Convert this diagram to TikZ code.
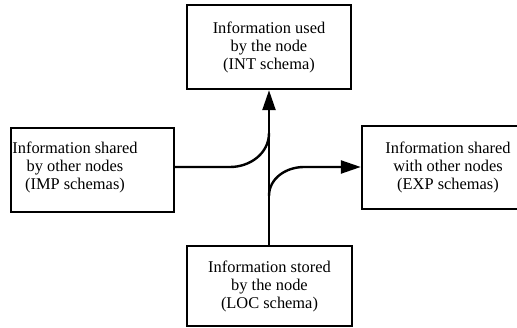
\documentclass[tikz,border=0pt]{standalone}
\usepackage{fontspec}
\setmainfont{Liberation Serif}
\usepackage{tikz}
\usetikzlibrary{arrows.meta}

\tikzset{
  schemabox/.style={draw, line width=2.4pt, inner sep=0pt, align=center,
    font=\fontsize{16.4}{18}\selectfont},
  info/.style={align=center, inner sep=0pt, font=\fontsize{16.4}{18}\selectfont},
  flow/.style={line width=2.4pt},
  tip/.style={-{Triangle[length=20pt,width=13pt]}}
}

\begin{document}
\begin{tikzpicture}[x=1pt,y=-1pt]
      \useasboundingbox (0,0) rectangle (517,328);
      \node[schemabox, minimum width=164, minimum height=84] (int) at (269,47)
        {Information used\\by the node\\(INT schema)};
      \node[schemabox, minimum width=163, minimum height=84] (imp) at (92.5,170) {};
      \node[info] (imptext) at (75,167) {Information shared\\by other nodes\\(IMP schemas)};
      \node[schemabox, minimum width=200, minimum height=83] (exp) at (462,167.5) {};
      \node[info] (exptext) at (448,167) {Information shared\\with other nodes\\(EXP schemas)};
      \node[schemabox, minimum width=165, minimum height=80] (loc) at (269.5,286)
        {Information stored\\by the node\\(LOC schema)};
      \coordinate (join) at (269,133);
      \coordinate (split) at (269,196);
      \draw[flow, tip] (loc.north -| join) -- (int.south -| join);
      \draw[flow] (imp.east |- 0,167) -- (230,167) to[out=0,in=-90] (join);
      \draw[flow, tip] (split) to[out=90,in=180] (304,167) -- (exp.west |- 0,167);
    \end{tikzpicture}
\end{document}
